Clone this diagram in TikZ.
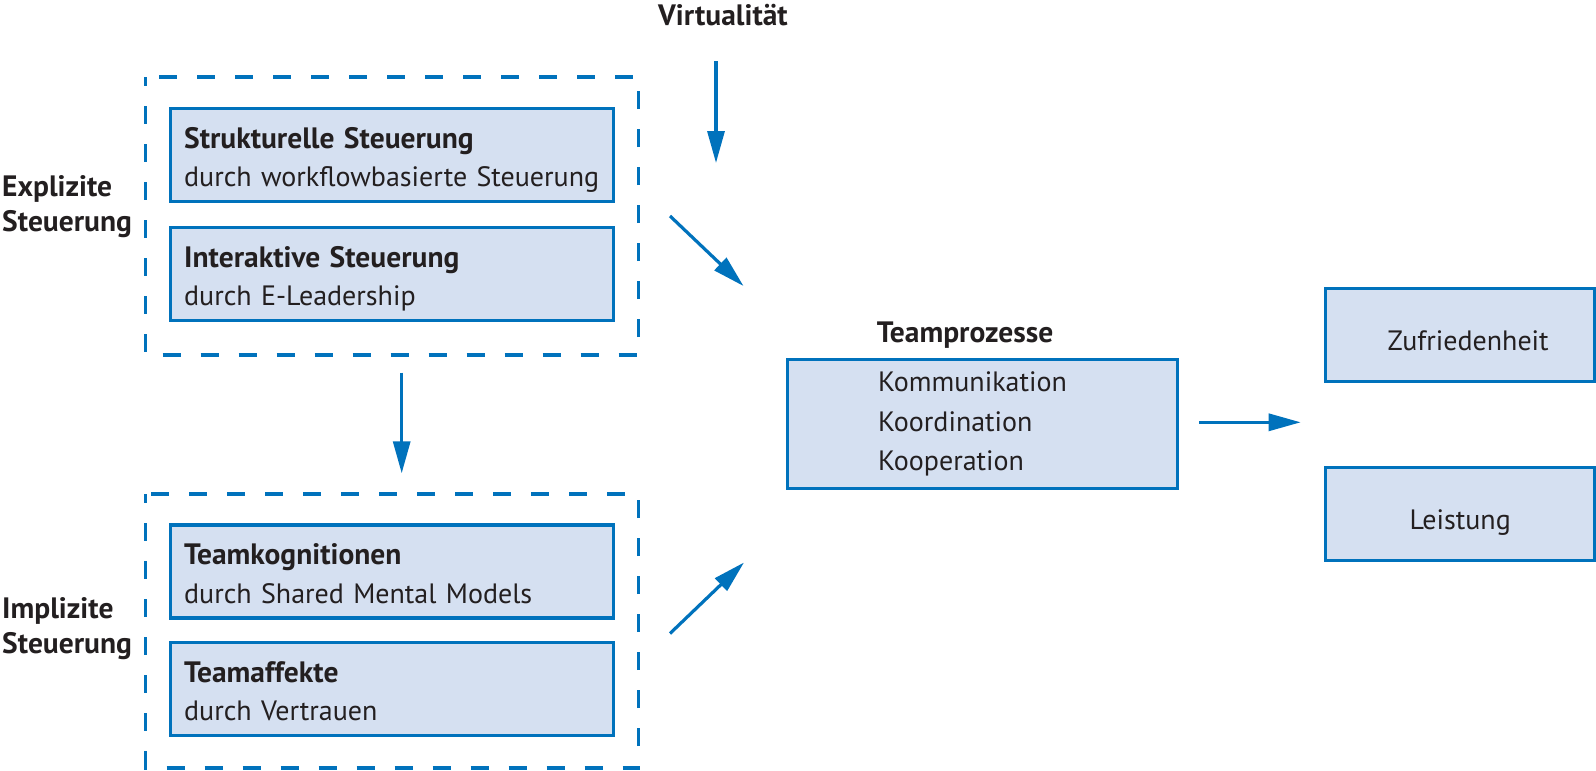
\documentclass[tikz,border=0pt]{standalone}
\usepackage{fontspec}
\usepackage{tikz}
\usepackage{xcolor}
\usetikzlibrary{arrows.meta}
\setmainfont{PT Sans}
\definecolor{blue}{RGB}{0,114,188}
\definecolor{lightblue}{RGB}{213,224,241}
\definecolor{textgray}{RGB}{35,31,32}
\newcommand{\boxtitle}[1]{{\fontsize{29.5}{38.5}\selectfont\bfseries #1}}

\begin{document}
\begin{tikzpicture}[x=1pt,y=-1pt,
    box/.style={draw=blue,fill=lightblue,line width=3.3pt,anchor=north west,
        inner ysep=0pt,inner xsep=14pt,minimum width=443pt,minimum height=93pt,
        text width=415pt,align=left,text height=40pt,text depth=53pt,
        text=textgray,font=\fontsize{28}{38.5}\selectfont},
    outcome/.style={draw=blue,fill=lightblue,line width=3.3pt,anchor=north west,
        minimum width=269pt,minimum height=93pt,text height=31pt,text depth=0pt,
        text=textgray,font=\fontsize{28}{35}\selectfont},
    heading/.style={anchor=base west,inner sep=0pt,align=left,text=textgray,
        font=\bfseries\fontsize{29.5}{35}\selectfont},
    dashbox/.style={draw=blue,line width=3.3pt,dash pattern=on 18pt off 20pt,dash phase=9pt},
    arrow/.style={draw=blue,line width=3.2pt,-{Triangle[length=32pt,width=17pt]}}]
                \useasboundingbox (0,0) rectangle (1596,771);

                % Explicit steering
                \draw[dashbox] (145.5,77) rectangle (638.5,355);
                \node[box] (struktur) at (168.5,106.5) {\boxtitle{Strukturelle Steuerung}\\\mbox{durch workflowbasierte Steuerung}};
                \node[box] (interaktiv) at (168.5,225.5) {\boxtitle{Interaktive Steuerung}\\durch E-Leadership};
                \node[heading] (explizit) at (2,231.7) {Explizite\\Steuerung};

                % Implicit steering
                \draw[dashbox] (145.5,494) rectangle (638.5,768);
                \node[box] (kognition) at (168.5,523.2) {\boxtitle{Teamkognitionen}\\durch Shared Mental Models};
                \node[box] (affekt) at (168.5,640.8) {\boxtitle{Teamaffekte}\\durch Vertrauen};
                \node[heading] (implizit) at (2,653.3) {Implizite\\Steuerung};

                % Team processes
                \node[heading] (virtual) at (658,25) {Virtualität};
                \node[heading] (tplabel) at (876.7,342.7) {Teamprozesse};
                \node[box,minimum width=390.5pt,minimum height=129.5pt,inner xsep=91pt,
                    text width=208.5pt,text height=32.5pt,text depth=97pt,
                    font=\fontsize{28}{39.6}\selectfont] (prozesse) at (785.5,357.5)
                    {Kommunikation\\Koordination\\Kooperation};

                % Outcomes
                \node[outcome] (zufrieden) at (1324,287) {\hspace{16pt}Zufriedenheit};
                \node[outcome] (leistung) at (1324,465.5) {Leistung};

                % Arrows
                \coordinate (v1) at (716,61);
                \coordinate (v2) at (716,163);
                \coordinate (e1) at (670,216);
                \coordinate (e2) at (743.5,286);
                \coordinate (i1) at (670,633.5);
                \coordinate (i2) at (744,562.5);
                \coordinate (s1) at (401.7,372.7);
                \coordinate (s2) at (401.7,473.3);
                \coordinate (p1) at (1199,422.3);
                \coordinate (p2) at (1300.7,422.3);
                \draw[arrow] (v1) -- (v2);
                \draw[arrow] (e1) -- (e2);
                \draw[arrow] (i1) -- (i2);
                \draw[arrow] (s1) -- (s2);
                \draw[arrow] (p1) -- (p2);
            \end{tikzpicture}
\end{document}
